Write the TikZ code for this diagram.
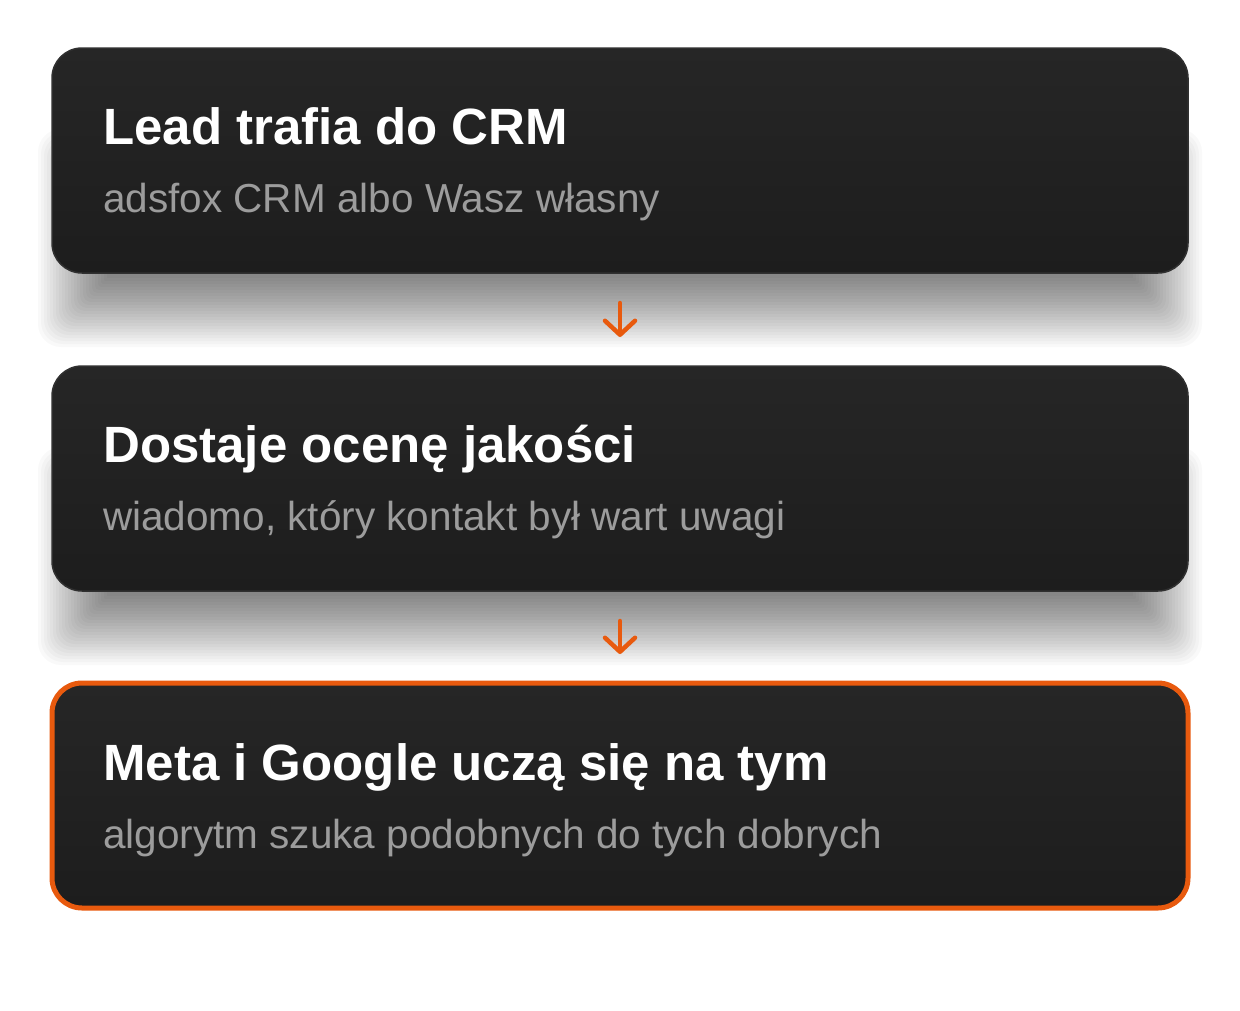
\documentclass[tikz,border=0pt]{standalone}
\usepackage{fontspec}
\setmainfont{Liberation Sans}
\usepackage{xcolor}
\usetikzlibrary{
  positioning,
  backgrounds,
  arrows.meta
}
\definecolor{cardtop}{HTML}{262626}
\definecolor{cardbot}{HTML}{1D1D1D}
\definecolor{cardline}{HTML}{303030}
\definecolor{subgray}{HTML}{9C9C9C}
\definecolor{accent}{HTML}{E85A0E}

\begin{document}
\begin{tikzpicture}[x=1pt,y=1pt,
    card/.style={rectangle, rounded corners=30pt, minimum width=1136pt, minimum height=225pt,
      inner sep=0pt, outer sep=0pt, top color=cardtop, bottom color=cardbot,
      draw=cardline, line width=1.5pt},
    picked/.style={draw=accent, line width=5pt},
    title/.style={anchor=base west, inner sep=0pt, text=white,
      font=\fontsize{51}{60}\selectfont\bfseries},
    sub/.style={anchor=base west, inner sep=0pt, text=subgray,
      font=\fontsize{40.5}{48}\selectfont},
    flow/.style={draw=accent, line width=4.5pt, line cap=round, line join=round,
      -{Straight Barb[length=14pt, width=30pt, round]},
      shorten <=30pt, shorten >=29pt}]
        \useasboundingbox (0,0) rectangle (1240,-1010);

        % the three steps
        \node[card] (lead) at (620,-160.5) {};
        \node[card, below=93pt of lead] (score) {};
        \node[card, picked, below=92pt of score] (learn) {};

        \node[title] (lead t) at ([xshift=51pt, yshift=-96pt]lead.north west) {Lead trafia do CRM};
        \node[sub] (lead s) at ([xshift=51pt, yshift=-164pt]lead.north west) {adsfox CRM albo Wasz własny};

        \node[title] (score t) at ([xshift=51pt, yshift=-96pt]score.north west) {Dostaje ocenę jakości};
        \node[sub] (score s) at ([xshift=51pt, yshift=-164pt]score.north west) {wiadomo, który kontakt był wart uwagi};

        \node[title] (learn t) at ([xshift=51pt, yshift=-97pt]learn.north west) {Meta i Google uczą się na tym};
        \node[sub] (learn s) at ([xshift=51pt, yshift=-165pt]learn.north west) {algorytm szuka podobnych do tych dobrych};

        \draw[flow] (lead.south) -- (score.north);
        \draw[flow] (score.south) -- (learn.north);

        % soft shadows under the first two cards
        \begin{scope}[on background layer]
            \fill[white] (0,0) rectangle (1240,-1010);
            \foreach \c in {lead, score}
                \foreach \g [evaluate=\g as \r using 20+3*\g, evaluate=\g as \d using 3*\g] in {0,...,23}
                    \fill[black, fill opacity=0.022, rounded corners=\r pt]
                        ([shift={(55-\d,-5-\d)}]\c.south west) rectangle ([shift={(-55+\d,-150+\d)}]\c.north east);
        \end{scope}
    \end{tikzpicture}
\end{document}
